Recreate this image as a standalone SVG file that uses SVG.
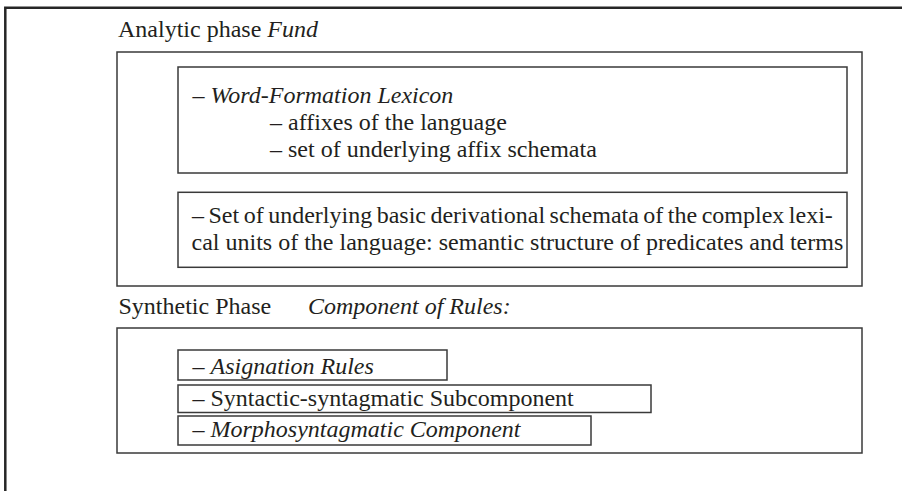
<svg xmlns="http://www.w3.org/2000/svg" width="902" height="491" viewBox="0 0 902 491">
  <style>
    .frame { fill: none; stroke: #262626; stroke-width: 2.5; }
    .box { fill: none; stroke: #3a3a3a; stroke-width: 1.5; }
    .t { font-family: "Liberation Serif", "Times New Roman", serif; font-size: 24px; fill: #231f20; }
    .i { font-style: italic; }
  </style>
  <rect width="902" height="491" fill="#ffffff"/>

  <!-- page frame: only the top and left edges are inside the view -->
  <path class="frame" d="M5.3,491 V7.8 H902"/>

  <g id="connectors"/>

  <!-- analytic phase -->
  <g id="analytic-phase">
    <text class="t" x="118" y="37">Analytic phase <tspan class="i">Fund</tspan></text>
    <rect class="box" x="117" y="52" width="745" height="234"/>
  </g>

  <g id="word-formation-lexicon">
    <rect class="box" x="178" y="67" width="669" height="106"/>
    <text class="t" x="192.5" y="103">– <tspan class="i">Word-Formation Lexicon</tspan></text>
    <text class="t" x="270" y="130">– affixes of the language</text>
    <text class="t" x="270" y="157">– set of underlying affix schemata</text>
  </g>

  <g id="derivational-schemata">
    <rect class="box" x="178" y="192.3" width="669" height="75"/>
    <text class="t" x="192" y="223" word-spacing="-1.5">– Set of underlying basic derivational schemata of the complex lexi-</text>
    <text class="t" x="191.5" y="250">cal units of the language: semantic structure of predicates and terms</text>
  </g>

  <!-- synthetic phase -->
  <g id="synthetic-phase">
    <text class="t" x="118.5" y="314">Synthetic Phase</text>
    <text class="t i" x="308" y="314">Component of Rules:</text>
    <rect class="box" x="117" y="328" width="745" height="125"/>
  </g>

  <g id="asignation-rules">
    <rect class="box" x="178" y="350" width="269" height="30"/>
    <text class="t" x="192.5" y="374">– <tspan class="i">Asignation Rules</tspan></text>
  </g>

  <g id="syntactic-subcomponent">
    <rect class="box" x="178" y="385" width="473" height="27.5"/>
    <text class="t" x="192.5" y="406">– Syntactic-syntagmatic Subcomponent</text>
  </g>

  <g id="morphosyntagmatic-component">
    <rect class="box" x="178" y="416" width="413" height="29"/>
    <text class="t" x="192.5" y="437">– <tspan class="i">Morphosyntagmatic Component</tspan></text>
  </g>
</svg>
